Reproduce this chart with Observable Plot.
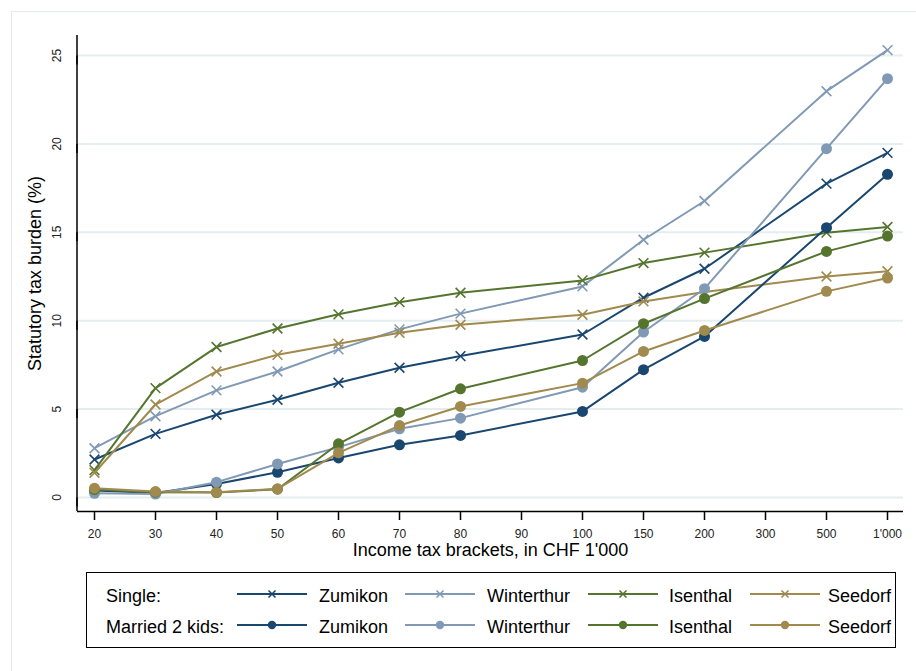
<!DOCTYPE html>
<html><head><meta charset="utf-8">
<script src="https://cdn.jsdelivr.net/npm/d3@7"></script>
<script src="https://cdn.jsdelivr.net/npm/@observablehq/plot@0.6"></script>
<style>
body{margin:0;background:#fff;font-family:"Liberation Sans",Arial,sans-serif;}
#wrap{position:relative;width:916px;height:671px;overflow:hidden;background:#fff}
#outer{position:absolute;left:11px;top:11px;width:930px;height:700px;border:1px solid #e3eaec;box-sizing:border-box}
#chart{position:absolute;left:0;top:0}
#legend{position:absolute;left:86px;top:572px;width:810px;height:76px;border:1.5px solid #000;box-sizing:border-box;background:#fff}
.lt{position:absolute;font-size:18px;color:#000;line-height:1;white-space:nowrap;transform:translateY(-50%)}
.ls{position:absolute;transform:translateY(-50%)}
</style></head><body>
<div id="wrap"><div id="outer"></div><div id="chart"></div><div id="legend"></div></div>
<script>
// x tick labels (income brackets, CHF 1'000)
const brackets = ["20","30","40","50","60","70","80","90","100","150","200","300","500","1'000"];
// brackets that carry data
const dataBrackets = ["20","30","40","50","60","70","80","100","150","200","500","1'000"];
const places = ["Zumikon","Winterthur","Isenthal","Seedorf"];
const households = ["Single:","Married 2 kids:"];
const yTicks = [0,5,10,15,20,25];

// Statutory tax burden (%)
const singleZumikon    = [2.15, 3.60, 4.68, 5.53, 6.49, 7.34, 8.00, 9.22, 11.30, 12.94, 17.75, 19.49];
const singleWinterthur = [2.79, 4.60, 6.06, 7.13, 8.38, 9.51, 10.40, 11.94, 14.58, 16.77, 22.98, 25.30];
const singleIsenthal   = [1.55, 6.19, 8.51, 9.56, 10.36, 11.05, 11.58, 12.28, 13.26, 13.85, 14.98, 15.30];
const singleSeedorf    = [1.40, 5.26, 7.13, 8.07, 8.70, 9.32, 9.77, 10.34, 11.09, 11.62, 12.50, 12.80];
const marriedZumikon    = [0.40, 0.25, 0.77, 1.43, 2.24, 2.98, 3.51, 4.87, 7.23, 9.11, 15.26, 18.28];
const marriedWinterthur = [0.24, 0.20, 0.87, 1.90, 2.85, 3.89, 4.49, 6.24, 9.36, 11.81, 19.73, 23.69];
const marriedIsenthal   = [0.45, 0.30, 0.28, 0.47, 3.04, 4.83, 6.15, 7.75, 9.83, 11.25, 13.92, 14.79];
const marriedSeedorf    = [0.53, 0.34, 0.30, 0.49, 2.53, 4.07, 5.15, 6.47, 8.26, 9.45, 11.66, 12.41];

const colors = {Zumikon: "#1a476f", Winterthur: "#8099b4", Isenthal: "#55752f", Seedorf: "#a08a4e"};

const seriesList = [
  {hh: 0, place: "Zumikon", values: singleZumikon},
  {hh: 0, place: "Winterthur", values: singleWinterthur},
  {hh: 0, place: "Isenthal", values: singleIsenthal},
  {hh: 0, place: "Seedorf", values: singleSeedorf},
  {hh: 1, place: "Zumikon", values: marriedZumikon},
  {hh: 1, place: "Winterthur", values: marriedWinterthur},
  {hh: 1, place: "Isenthal", values: marriedIsenthal},
  {hh: 1, place: "Seedorf", values: marriedSeedorf}
];

const W = 916, H = 565, ML = 77, MR = 13, MT = 35, MB = 54;

const marks = [
  Plot.gridY(yTicks, {stroke: "#e4eef0", strokeOpacity: 1, strokeWidth: 2}),
  Plot.axisY(yTicks, {tickSize: 9, tickPadding: 11, rotate: -90, textAnchor: "middle", fontSize: 12, fill: "#222", strokeWidth: 1.5, label: null}),
  Plot.axisX(brackets, {tickSize: 9, tickPadding: 9, fontSize: 12, fill: "#222", strokeWidth: 1.5, label: null}),
  Plot.ruleY([-0.79], {stroke: "#000", strokeWidth: 1.5}),
  Plot.text(["Statutory tax burden (%)"], {frameAnchor: "left", rotate: -90, dx: -42, fontSize: 18, fill: "#000", textAnchor: "middle", lineAnchor: "middle"}),
  Plot.text(["Income tax brackets, in CHF 1'000"], {frameAnchor: "bottom", dy: 39, fontSize: 18, fill: "#000", textAnchor: "middle", lineAnchor: "middle"})
];

for (const s of seriesList) {
  const rows = dataBrackets.map((b, i) => ({bracket: b, value: s.values[i]}));
  const c = colors[s.place];
  marks.push(Plot.line(rows, {x: "bracket", y: "value", stroke: c, strokeWidth: 2}));
  if (s.hh === 0) {
    marks.push(Plot.dot(rows, {x: "bracket", y: "value", symbol: "times", r: 4.5, stroke: c, strokeWidth: 1.6}));
  } else {
    marks.push(Plot.dot(rows, {x: "bracket", y: "value", symbol: "circle", r: 5.5, fill: c, stroke: null}));
  }
}

const svg = Plot.plot({
  width: W, height: H,
  marginLeft: ML, marginRight: MR, marginTop: MT, marginBottom: MB,
  style: {fontFamily: "'Liberation Sans', Arial, sans-serif", background: "transparent", overflow: "visible"},
  x: {type: "point", domain: brackets, padding: 0.24, label: null},
  y: {domain: [-0.79, 26.13], label: null},
  marks
});

// y axis domain line
d3.select(svg).append("line")
  .attr("x1", ML).attr("x2", ML).attr("y1", MT).attr("y2", H - MB)
  .attr("stroke", "#000").attr("stroke-width", 1.5);

document.getElementById("chart").appendChild(svg);

// legend
const legend = document.getElementById("legend");
const rowY = [23, 54];
const lineX = [150, 318, 501, 663];
const textX = [232, 400, 582, 741];
households.forEach((h, r) => {
  const t = document.createElement("div");
  t.className = "lt"; t.style.left = "19px"; t.style.top = rowY[r] + "px"; t.textContent = h;
  legend.appendChild(t);
  places.forEach((p, j) => {
    const c = colors[p];
    const sym = r === 0
      ? `<path d="M31.5,3.5L38.5,10.5M38.5,3.5L31.5,10.5" stroke="${c}" stroke-width="1.6"/>`
      : `<circle cx="35" cy="7" r="4.2" fill="${c}"/>`;
    const d = document.createElement("div");
    d.className = "ls"; d.style.left = lineX[j] + "px"; d.style.top = rowY[r] + "px";
    d.innerHTML = `<svg width="70" height="14"><line x1="0" x2="70" y1="7" y2="7" stroke="${c}" stroke-width="2.2"/>${sym}</svg>`;
    legend.appendChild(d);
    const tx = document.createElement("div");
    tx.className = "lt"; tx.style.left = textX[j] + "px"; tx.style.top = rowY[r] + "px"; tx.textContent = p;
    legend.appendChild(tx);
  });
});
</script>
</body></html>
